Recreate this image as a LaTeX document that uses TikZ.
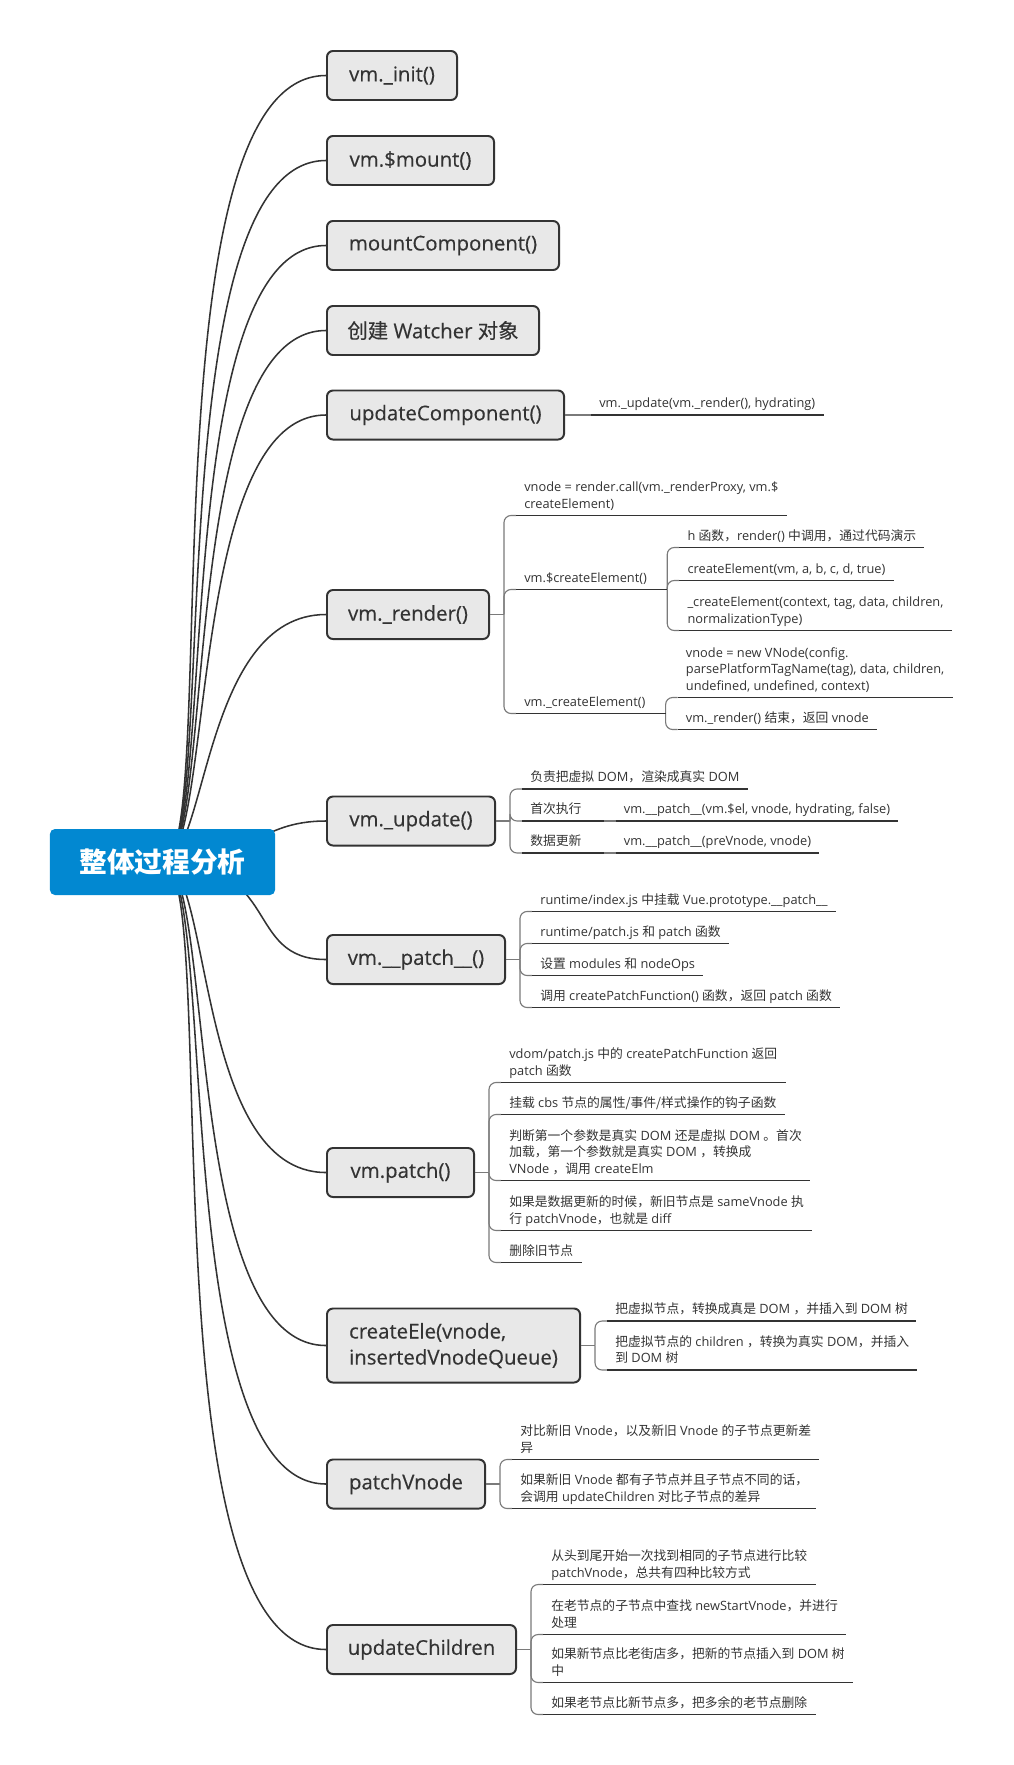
\documentclass[tikz,border=0pt]{standalone}
\usepackage{fontspec}
\setmainfont{Open Sans}
\newfontfamily\cjk{Noto Sans CJK SC}
\newfontfamily\topicfont{Open Sans}[FakeBold=0.35]
\newfontfamily\topiccjk{Noto Sans CJK SC}[FakeBold=0.35]
\let\zhfont\cjk
\newcommand\zh[1]{{\zhfont #1}}
\usepackage{tikz}
\usetikzlibrary{calc, backgrounds}
\definecolor{ink}{HTML}{333333}
\definecolor{boxfill}{HTML}{E8E8E8}
\definecolor{rootblue}{HTML}{0288D1}
\definecolor{wire}{HTML}{7A7A7A}

\begin{document}
\begin{tikzpicture}[
    x=0.025cm, y=-0.025cm,
    root/.style={rectangle, fill=rootblue, rounded corners=0.125cm,
                 minimum width=5.625cm, minimum height=1.65cm, text=white,
                 font=\fontsize{19.7}{24}\selectfont\cjk\bfseries},
    topic/.style={rectangle, draw=ink, fill=boxfill, line width=1.4pt,
                  rounded corners=0.15cm, anchor=west, minimum height=1.225cm,
                  inner xsep=0.45cm, align=left, text=ink,
                  font=\fontsize{14.5}{18.5}\selectfont\topicfont\let\zhfont\topiccjk},
    leaf/.style={anchor=south west, inner xsep=0.2cm, inner ysep=0.05cm,
                 align=left, text=ink, font=\fontsize{9.1}{11.8}\selectfont,
                 execute at end node=\strut},
    branch/.style={draw=ink, line width=1.1pt},
    conn/.style={draw=wire, line width=0.8pt, rounded corners=0.175cm},
    uline/.style={draw=ink, line width=0.8pt}
  ]
  \useasboundingbox (0,0) rectangle (1014,1765);

  \node[root] (root) at (162.5,862) {整体过程分析};

  \node[topic, minimum width=3.25cm] (init) at (326,75.5) {vm.\_init()};
  \node[topic, minimum width=4.175cm] (mount) at (326,160.5) {vm.\$mount()};
  \node[topic, minimum width=5.8cm] (mountc) at (326,245.5) {mountComponent()};
  \node[topic, minimum width=5.3cm] (watcher) at (326,330.5) {\zh{创建} Watcher \zh{对象}};
  \node[topic, minimum width=5.925cm] (updc) at (326,415) {updateComponent()};
  \node[topic, minimum width=4.05cm] (render) at (326,614.5) {vm.\_render()};
  \node[topic, minimum width=4.2cm] (update) at (326,821) {vm.\_update()};
  \node[topic, minimum width=4.45cm] (patchx) at (326,959.5) {vm.\_\_patch\_\_()};
  \node[topic, minimum width=3.675cm] (vpatch) at (326,1172.5) {vm.patch()};
  \node[topic, minimum width=6.325cm, minimum height=1.85cm] (createele) at (326,1345.5) {createEle(vnode,\\insertedVnodeQueue)};
  \node[topic, minimum width=3.95cm] (patchvnode) at (326,1484) {patchVnode};
  \node[topic, minimum width=4.725cm] (updchildren) at (326,1649.5) {updateChildren};

  \begin{scope}[on background layer]
    \draw[branch] (root.center) .. controls +(60,0) and +(-185,0) .. (init.west);
    \draw[branch] (root.center) .. controls +(58,0) and +(-172,0) .. (mount.west);
    \draw[branch] (root.center) .. controls +(56,0) and +(-160,0) .. (mountc.west);
    \draw[branch] (root.center) .. controls +(54,0) and +(-150,0) .. (watcher.west);
    \draw[branch] (root.center) .. controls +(52,0) and +(-140,0) .. (updc.west);
    \draw[branch] (root.center) .. controls +(45,0) and +(-124,0) .. (render.west);
    \draw[branch] (root.center) .. controls +(90,0) and +(-70,0) .. (update.west);
    \draw[branch] (root.center) .. controls +(120,0) and +(-83,0) .. (patchx.west);
    \draw[branch] (root.center) .. controls +(50,0) and +(-131,0) .. (vpatch.west);
    \draw[branch] (root.center) .. controls +(53,0) and +(-145,0) .. (createele.west);
    \draw[branch] (root.center) .. controls +(56,0) and +(-160,0) .. (patchvnode.west);
    \draw[branch] (root.center) .. controls +(60,0) and +(-185,0) .. (updchildren.west);
  \end{scope}

  \coordinate (ju) at ($(updc.east)+(14,0)$);
  \coordinate (jr) at ($(render.east)+(14,0)$);
  \coordinate (jd) at ($(update.east)+(14,0)$);
  \coordinate (jp) at ($(patchx.east)+(14,0)$);
  \coordinate (jv) at ($(vpatch.east)+(14,0)$);
  \coordinate (jc) at ($(createele.east)+(14,0)$);
  \coordinate (jn) at ($(patchvnode.east)+(14,0)$);
  \coordinate (jh) at ($(updchildren.east)+(14,0)$);

  \node[leaf] (u1) at ($(ju)+(12,0)$) {vm.\_update(vm.\_render(), hydrating)};

  \node[leaf] (r1) at ($(jr)+(12,-99)$) {vnode = render.call(vm.\_renderProxy, vm.\$\\createElement)};
  \node[leaf] (r2) at ($(jr)+(12,-25)$) {vm.\$createElement()\kern0.3cm};
  \node[leaf] (r3) at ($(jr)+(12,99)$) {vm.\_createElement()\kern0.3cm};
  \node[leaf] (r2a) at ($(r2.south east)+(12,-42)$) {h \zh{函数，}render() \zh{中调用，通过代码演示}};
  \node[leaf] (r2b) at ($(r2.south east)+(12,-9)$) {createElement(vm, a, b, c, d, true)};
  \node[leaf] (r2c) at ($(r2.south east)+(12,41)$) {\_createElement(context, tag, data, children,\\normalizationType)};
  \node[leaf] (r3a) at ($(r3.south east)+(12,-16)$) {vnode = new VNode(config.\\parsePlatformTagName(tag), data, children,\\undefined, undefined, context)};
  \node[leaf] (r3b) at ($(r3.south east)+(12,16)$) {vm.\_render() \zh{结束，返回} vnode};

  \node[leaf] (d1) at ($(jd)+(12,-32)$) {\zh{负责把虚拟} DOM\zh{，渲染成真实} DOM};
  \node[leaf, text width=1.625cm] (d2) at ($(jd)+(12,0)$) {\zh{首次执行}};
  \node[leaf, text width=1.625cm] (d3) at ($(jd)+(12,32)$) {\zh{数据更新}};
  \node[leaf] (d2a) at ($(d2.south east)+(12,0)$) {vm.\_\_patch\_\_(vm.\$el, vnode, hydrating, false)};
  \node[leaf] (d3a) at ($(d3.south east)+(12,0)$) {vm.\_\_patch\_\_(preVnode, vnode)};

  \node[leaf] (p1) at ($(jp)+(12,-48)$) {runtime/index.js \zh{中挂载} Vue.prototype.\_\_patch\_\_};
  \node[leaf] (p2) at ($(jp)+(12,-16)$) {runtime/patch.js \zh{和} patch \zh{函数}};
  \node[leaf] (p3) at ($(jp)+(12,16)$) {\zh{设置} modules \zh{和} nodeOps};
  \node[leaf] (p4) at ($(jp)+(12,48)$) {\zh{调用} createPatchFunction() \zh{函数，返回} patch \zh{函数}};

  \node[leaf] (v1) at ($(jv)+(12,-90)$) {vdom/patch.js \zh{中的} createPatchFunction \zh{返回}\\patch \zh{函数}};
  \node[leaf] (v2) at ($(jv)+(12,-58)$) {\zh{挂载} cbs \zh{节点的属性/事件/样式操作的钩子函数}};
  \node[leaf] (v3) at ($(jv)+(12,8)$) {\zh{判断第一个参数是真实} DOM \zh{还是虚拟} DOM \zh{。首次}\\\zh{加载，第一个参数就是真实} DOM \zh{，转换成}\\VNode \zh{，调用} createElm};
  \node[leaf] (v4) at ($(jv)+(12,58)$) {\zh{如果是数据更新的时候，新旧节点是} sameVnode \zh{执}\\\zh{行} patchVnode\zh{，也就是} diff};
  \node[leaf] (v5) at ($(jv)+(12,90)$) {\zh{删除旧节点}};

  \node[leaf] (c1) at ($(jc)+(12,-24.5)$) {\zh{把虚拟节点，转换成真是} DOM \zh{，并插入到} DOM \zh{树}};
  \node[leaf] (c2) at ($(jc)+(12,24.5)$) {\zh{把虚拟节点的} children \zh{，转换为真实} DOM\zh{，并插入}\\\zh{到} DOM \zh{树}};

  \node[leaf] (n1) at ($(jn)+(12,-24.5)$) {\zh{对比新旧} Vnode\zh{，以及新旧} Vnode \zh{的子节点更新差}\\\zh{异}};
  \node[leaf] (n2) at ($(jn)+(12,24.5)$) {\zh{如果新旧} Vnode \zh{都有子节点并且子节点不同的话，}\\\zh{会调用} updateChildren \zh{对比子节点的差异}};

  \node[leaf] (h1) at ($(jh)+(12,-65)$) {\zh{从头到尾开始一次找到相同的子节点进行比较}\\patchVnode\zh{，总共有四种比较方式}};
  \node[leaf] (h2) at ($(jh)+(12,-15)$) {\zh{在老节点的子节点中查找} newStartVnode\zh{，并进行}\\\zh{处理}};
  \node[leaf] (h3) at ($(jh)+(12,33)$) {\zh{如果新节点比老街店多，把新的节点插入到} DOM \zh{树}\\\zh{中}};
  \node[leaf] (h4) at ($(jh)+(12,65)$) {\zh{如果老节点比新节点多，把多余的老节点删除}};

  \draw[conn] (updc.east) -- (u1.south west);
  \draw[conn] (render.east) -- (jr);
  \draw[conn] (update.east) -- (jd);
  \draw[conn] (patchx.east) -- (jp);
  \draw[conn] (vpatch.east) -- (jv);
  \draw[conn] (createele.east) -- (jc);
  \draw[conn] (patchvnode.east) -- (jn);
  \draw[conn] (updchildren.east) -- (jh);

  \foreach \n in {r1,r2,r3} \draw[conn] (jr) |- (\n.south west);
  \foreach \n in {r2a,r2b,r2c} \draw[conn] (r2.south east) |- (\n.south west);
  \foreach \n in {r3a,r3b} \draw[conn] (r3.south east) |- (\n.south west);
  \foreach \n in {d1,d2,d3} \draw[conn] (jd) |- (\n.south west);
  \draw[conn] (d2.south east) -- (d2a.south west);
  \draw[conn] (d3.south east) -- (d3a.south west);
  \foreach \n in {p1,p2,p3,p4} \draw[conn] (jp) |- (\n.south west);
  \foreach \n in {v1,v2,v3,v4,v5} \draw[conn] (jv) |- (\n.south west);
  \foreach \n in {c1,c2} \draw[conn] (jc) |- (\n.south west);
  \foreach \n in {n1,n2} \draw[conn] (jn) |- (\n.south west);
  \foreach \n in {h1,h2,h3,h4} \draw[conn] (jh) |- (\n.south west);

  \foreach \n in {u1,r1,r2,r3,r2a,r2b,r2c,r3a,r3b,d1,d2,d3,d2a,d3a,p1,p2,p3,p4,
                  v1,v2,v3,v4,v5,c1,c2,n1,n2,h1,h2,h3,h4}
    \draw[uline] (\n.south west) -- (\n.south east);

\end{tikzpicture}
\end{document}
